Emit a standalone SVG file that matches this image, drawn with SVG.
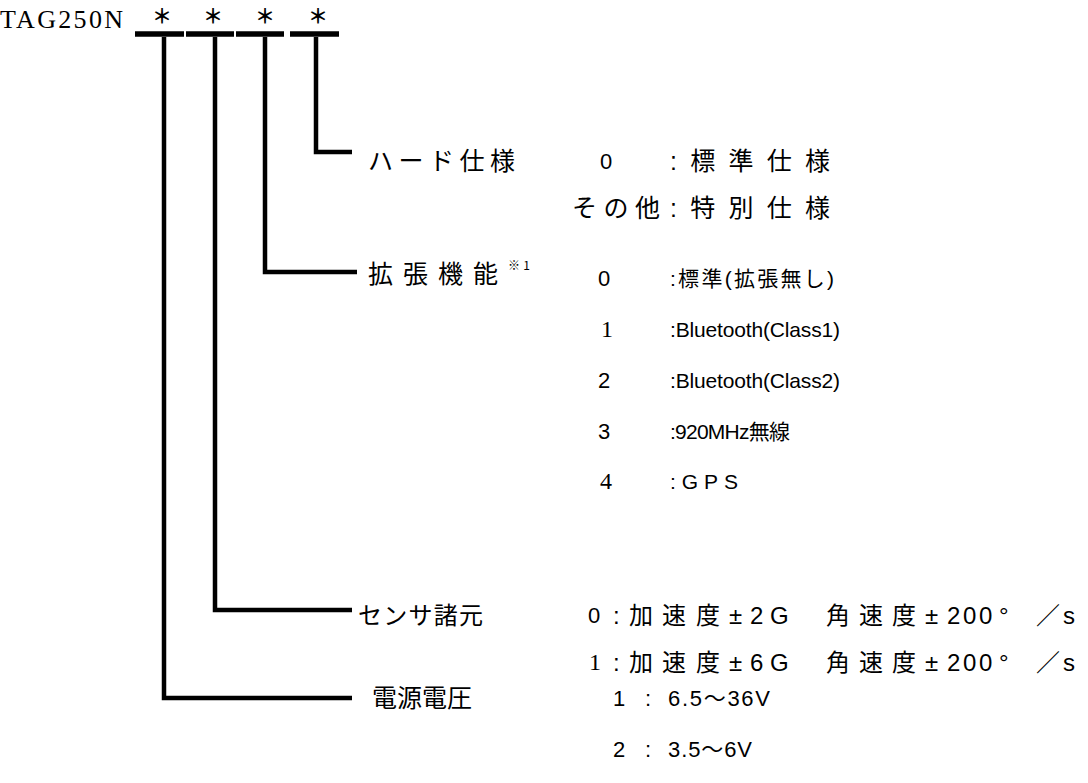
<svg xmlns="http://www.w3.org/2000/svg" width="1088" height="783" viewBox="0 0 1088 783">
<style>
.s{font-family:"Liberation Sans","Noto Sans CJK JP",sans-serif;font-size:22px;fill:#000}
.j{font-family:"Liberation Sans","Noto Sans CJK JP",sans-serif;font-size:25px;fill:#000}
.k{font-family:"Liberation Sans","Noto Sans CJK JP",sans-serif;font-size:24px;fill:#000}
.l{font-family:"Liberation Sans","Noto Sans CJK JP",sans-serif;font-size:21px;fill:#000}
.n{font-family:"Liberation Serif",serif;font-size:24px;fill:#000}
.t{font-family:"Liberation Serif",serif;font-size:26px;fill:#000}
.ast{font-family:"Noto Sans CJK JP",sans-serif;font-size:20px;font-weight:700;fill:#000}
.sup{font-family:"Noto Sans CJK JP",sans-serif;font-size:12px;fill:#000}
.ln{fill:none;stroke:#000;stroke-width:4.5;stroke-linejoin:miter;stroke-linecap:butt}
.bar{fill:none;stroke:#000;stroke-width:5.5}
</style>
<rect width="1088" height="783" fill="#fff"/>
<g id="header">
<text class="t" x="0" y="28" textLength="123" lengthAdjust="spacing">TAG250N</text>
<text class="ast" x="162" y="24" text-anchor="middle">＊</text>
<text class="ast" x="213" y="24" text-anchor="middle">＊</text>
<text class="ast" x="265" y="24" text-anchor="middle">＊</text>
<text class="ast" x="318" y="24" text-anchor="middle">＊</text>
</g>
<g id="connectors">
<line class="bar" x1="135" y1="34" x2="184" y2="34"/>
<line class="bar" x1="186" y1="34" x2="234" y2="34"/>
<line class="bar" x1="236" y1="34" x2="284" y2="34"/>
<line class="bar" x1="290" y1="34" x2="339" y2="34"/>
<path class="ln" d="M316,37 V152 H352"/>
<path class="ln" d="M265,37 V272 H357"/>
<path class="ln" d="M215,37 V610 H352"/>
<path class="ln" d="M164,37 V698 H352"/>
</g>
<g id="hard">
<text class="j" x="368" y="170" textLength="147" lengthAdjust="spacing">ハード仕様</text>
<text class="s" x="600" y="169">0</text>
<text class="j" x="670" y="170" textLength="160" lengthAdjust="spacing">:標準仕様</text>
<text class="j" x="572" y="217" textLength="88" lengthAdjust="spacing">その他</text>
<text class="j" x="670" y="217" textLength="160" lengthAdjust="spacing">:特別仕様</text>
</g>
<g id="ext">
<text class="j" x="368" y="283" textLength="130" lengthAdjust="spacing">拡張機能</text>
<text class="sup" x="508" y="270" textLength="22" lengthAdjust="spacing">※1</text>
<text class="s" x="598" y="286">0</text>
<text class="l" x="670" y="286" textLength="164" lengthAdjust="spacing">:標準(拡張無し)</text>
<text class="n" x="601" y="337">1</text>
<text class="l" x="670" y="337" textLength="170" lengthAdjust="spacing">:Bluetooth(Class1)</text>
<text class="s" x="598" y="388">2</text>
<text class="l" x="670" y="388" textLength="170" lengthAdjust="spacing">:Bluetooth(Class2)</text>
<text class="s" x="598" y="439">3</text>
<text class="l" x="670" y="439" textLength="120" lengthAdjust="spacing">:920MHz無線</text>
<text class="n" x="600" y="489">4</text>
<text class="l" x="670" y="489" textLength="68" lengthAdjust="spacing">:GPS</text>
</g>
<g id="sensor">
<text class="k" x="358" y="624" textLength="125" lengthAdjust="spacing">センサ諸元</text>
<text class="s" x="588" y="623">0</text>
<text class="k" x="613 629 662 696 729 750 770 795 826 859 892 925 947 963 979 999 1020 1036 1063" y="624">:加速度±2G 角速度±200° ／s</text>
<text class="n" x="589" y="670">1</text>
<text class="k" x="613 629 662 696 729 750 770 795 826 859 892 925 947 963 979 999 1020 1036 1063" y="671">:加速度±6G 角速度±200° ／s</text>
</g>
<g id="power">
<text class="j" x="372" y="707" textLength="100" lengthAdjust="spacing" font-size="23">電源電圧</text>
<text class="s" x="613" y="706">1</text>
<text class="s" x="645" y="706">:</text>
<text class="s" x="668" y="706" textLength="102" lengthAdjust="spacing">6.5～36V</text>
<text class="s" x="613" y="757">2</text>
<text class="s" x="645" y="757">:</text>
<text class="s" x="668" y="757" textLength="84" lengthAdjust="spacing">3.5～6V</text>
</g>
</svg>
